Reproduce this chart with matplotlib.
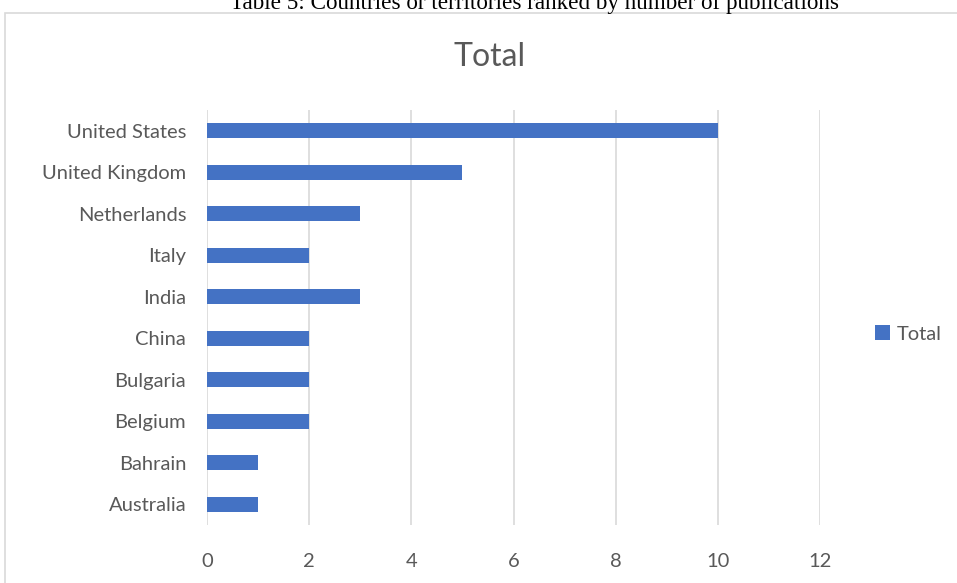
import matplotlib
matplotlib.use("Agg")
import matplotlib.pyplot as plt
from matplotlib.patches import Rectangle

countries = ["United States", "United Kingdom", "Netherlands", "Italy", "India",
             "China", "Bulgaria", "Belgium", "Bahrain", "Australia"]
totals = [10, 5, 3, 2, 3, 2, 2, 2, 1, 1]
xticks = [0, 2, 4, 6, 8, 10, 12]
series_name = "Total"
caption = "Table 5: Countries or territories ranked by number of publications"

W, H = 957, 583
fig = plt.figure(figsize=(W / 100, H / 100), dpi=100)
font = ["Lato", "DejaVu Sans"]
txt = "#595959"

# chart border
fig.patches.append(Rectangle((5 / W, -0.05), 1.2, 1 - 13 / H + 0.05, transform=fig.transFigure,
                             fill=False, edgecolor="#d9d9d9", linewidth=1.2))

fig.text(534 / W, 1 - 4 / H, caption, ha="center", va="center",
         family=["Liberation Serif"], fontsize=16.7, color="black")

ax = fig.add_axes([207 / W, 1 - 525 / H, (820 - 207) / W, (525 - 110) / H])
y = list(range(len(countries)))[::-1]
bars = ax.barh(y, totals, height=0.36, color="#4472c4", label=series_name, zorder=3)
ax.set_xlim(0, 12)
ax.set_ylim(-0.5, len(countries) - 0.5)
ax.set_xticks(xticks)
ax.set_xticklabels([str(v) for v in xticks], family=font, fontsize=14.5, color=txt)
ax.set_yticks(y)
ax.set_yticklabels(countries, family=font, fontsize=14.5, color=txt)
ax.tick_params(axis="both", length=0)
ax.tick_params(axis="x", pad=20)
ax.tick_params(axis="y", pad=15)
ax.grid(axis="x", color="#d9d9d9", linewidth=1.2, zorder=0)
for s in ax.spines.values():
    s.set_visible(False)

fig.text(490 / W, 1 - 57 / H, "Total", ha="center", va="center",
         family=font, fontsize=23, color=txt)

leg = fig.legend(handles=[bars], labels=[series_name], loc="center left",
                 bbox_to_anchor=(875 / W, 1 - 334 / H), frameon=False,
                 prop={"family": font, "size": 14.5}, handlelength=0.75, handleheight=0.75,
                 handletextpad=0.35, borderpad=0, borderaxespad=0)
for t in leg.get_texts():
    t.set_color(txt)

fig.savefig("out.png", dpi=100)
